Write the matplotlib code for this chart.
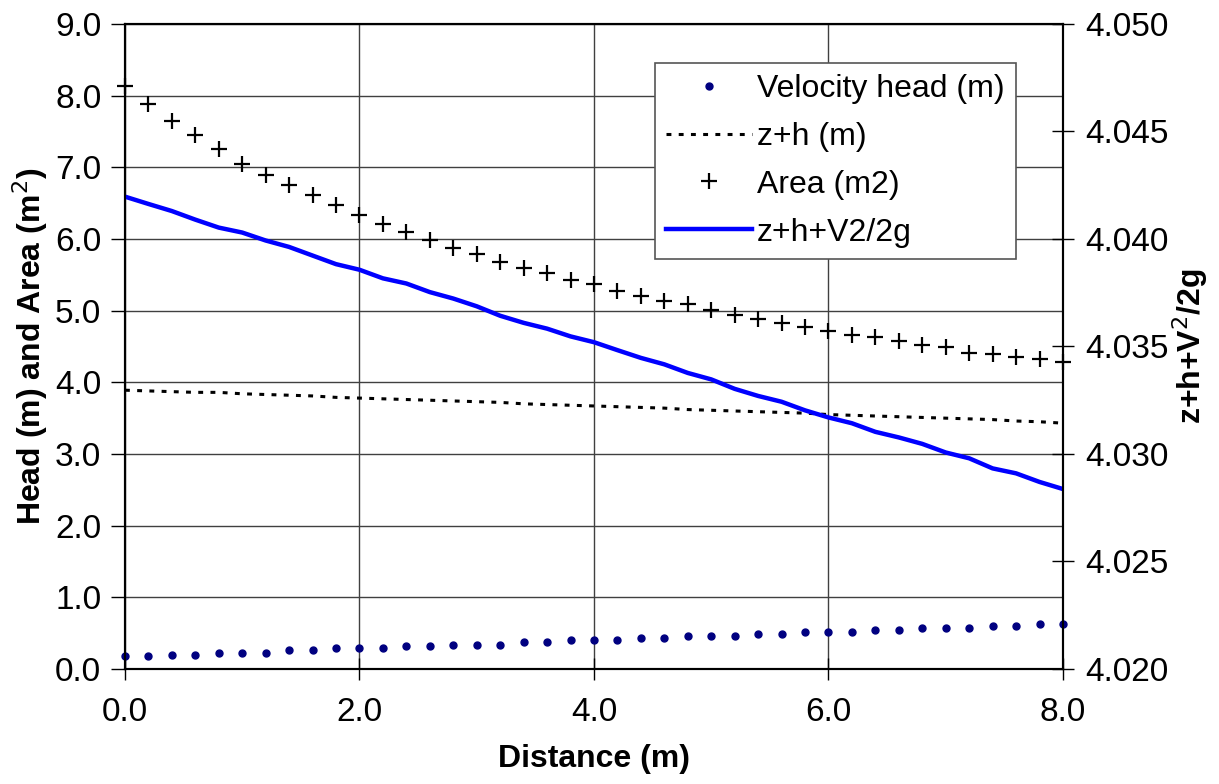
import matplotlib.pyplot as plt
import numpy as np

plt.rcParams['font.family'] = ['Liberation Sans', 'DejaVu Sans']

# Datos
distance = np.round(np.arange(0, 8.01, 0.2), 1)

velocity_head = [0.18, 0.18, 0.20, 0.20, 0.23, 0.23, 0.23, 0.26, 0.26, 0.29,
                 0.29, 0.29, 0.32, 0.32, 0.34, 0.34, 0.34, 0.38, 0.38, 0.40,
                 0.40, 0.40, 0.43, 0.43, 0.46, 0.46, 0.46, 0.49, 0.49, 0.52,
                 0.52, 0.52, 0.54, 0.54, 0.57, 0.57, 0.57, 0.60, 0.60, 0.63,
                 0.63]

z_h = [3.89, 3.88, 3.87, 3.86, 3.86, 3.84, 3.83, 3.82, 3.81, 3.79,
       3.78, 3.77, 3.76, 3.75, 3.74, 3.73, 3.72, 3.70, 3.69, 3.68,
       3.67, 3.66, 3.65, 3.64, 3.62, 3.61, 3.60, 3.59, 3.58, 3.57,
       3.55, 3.54, 3.53, 3.52, 3.51, 3.50, 3.49, 3.48, 3.46, 3.45,
       3.43]

area = [8.13, 7.88, 7.64, 7.45, 7.25, 7.05, 6.89, 6.75, 6.61, 6.47,
        6.33, 6.21, 6.10, 5.99, 5.87, 5.79, 5.68, 5.59, 5.52, 5.43,
        5.37, 5.28, 5.20, 5.14, 5.09, 5.01, 4.94, 4.89, 4.83, 4.77,
        4.72, 4.66, 4.63, 4.58, 4.52, 4.49, 4.41, 4.40, 4.36, 4.32,
        4.28]

energy = [4.04197, 4.04163, 4.04130, 4.04090, 4.04053, 4.04030, 4.03993,
          4.03963, 4.03923, 4.03883, 4.03857, 4.03817, 4.03793, 4.03753,
          4.03723, 4.03687, 4.03643, 4.03610, 4.03583, 4.03547, 4.03520,
          4.03483, 4.03447, 4.03417, 4.03377, 4.03347, 4.03303, 4.03270,
          4.03243, 4.03203, 4.03170, 4.03143, 4.03103, 4.03077, 4.03047,
          4.03007, 4.02980, 4.02933, 4.02910, 4.02870, 4.02837]

x_ticks = [0, 2, 4, 6, 8]
left_ticks = np.arange(0, 9.01, 1.0)
right_ticks = [4.020, 4.025, 4.030, 4.035, 4.040, 4.045, 4.050]

fig = plt.figure(figsize=(12.19, 7.84), dpi=100)
ax = fig.add_axes([0.1025, 0.1467, 0.7695, 0.8227])
ax2 = ax.twinx()

# Eje izquierdo
h1, = ax.plot(distance, velocity_head, linestyle='none', marker='o',
              markersize=5, color='#000080', label='Velocity head (m)',
              clip_on=False, zorder=3)
h2, = ax.plot(distance, z_h, linestyle=(0, (1.6, 2.4)), linewidth=2.2,
              color='black', label='z+h (m)', zorder=3)
h3, = ax.plot(distance, area, linestyle='none', marker='+', markersize=11,
              markeredgewidth=1.6, color='black', label='Area (m2)',
              clip_on=False, zorder=3)

# Eje derecho
h4, = ax2.plot(distance, energy, color='#0000ff', linewidth=3.2,
               label='z+h+V2/2g')

ax.set_xlim(0, 8)
ax.set_ylim(0, 9)
ax2.set_ylim(4.020, 4.050)
ax.set_xticks(x_ticks)
ax.set_yticks(left_ticks)
ax2.set_yticks(right_ticks)
ax.xaxis.set_major_formatter(plt.FormatStrFormatter('%.1f'))
ax.yaxis.set_major_formatter(plt.FormatStrFormatter('%.1f'))
ax2.yaxis.set_major_formatter(plt.FormatStrFormatter('%.3f'))

ax.grid(True, color='#404040', linewidth=1)
ax.set_axisbelow(True)

ax.tick_params(axis='both', labelsize=24, length=10, width=1, direction='out', pad=7)
ax.tick_params(axis='x', direction='inout', length=16, pad=12)
ax2.tick_params(axis='y', labelsize=24, length=16, width=1, direction='inout', pad=8)

for sp in ax.spines.values():
    sp.set_linewidth(1.5)
for sp in ax2.spines.values():
    sp.set_linewidth(1.5)

ax.set_xlabel('Distance (m)', fontsize=23, fontweight='bold', labelpad=12)
ax.set_ylabel('Head (m) and Area (m$^2$)', fontsize=23, fontweight='bold', labelpad=4)
ax2.set_ylabel('z+h+V$^2$/2g', fontsize=23, fontweight='bold', labelpad=1)

leg = ax2.legend([h1, h2, h3, h4], [h.get_label() for h in [h1, h2, h3, h4]],
                 loc='upper left', bbox_to_anchor=(0.565, 0.94), fontsize=23,
                 frameon=True, fancybox=False, framealpha=1, edgecolor='#555555',
                 handlelength=2.7, handletextpad=0.15, labelspacing=0.56,
                 borderpad=0.35, borderaxespad=0)
leg.get_frame().set_linewidth(1.2)

fig.savefig('out.png', dpi=100)
